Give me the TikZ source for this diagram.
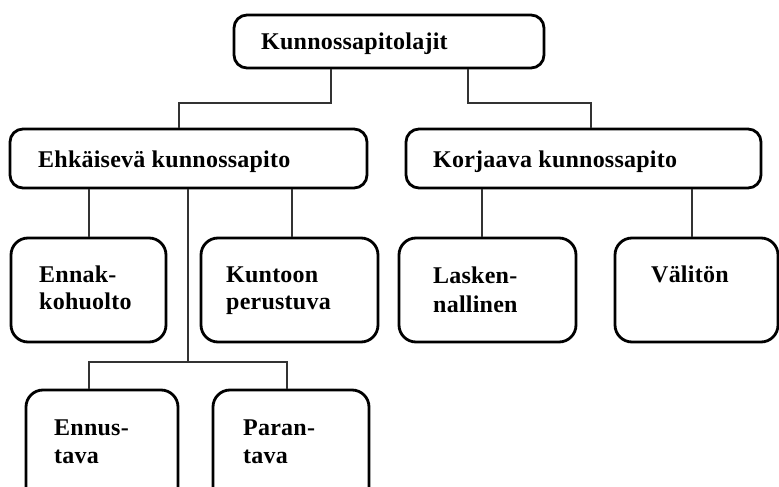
\documentclass[tikz,border=0pt]{standalone}
\usepackage{fontspec}
\setmainfont[LetterSpace=1]{Liberation Serif}
\begin{document}
\begin{tikzpicture}[x=1pt,y=-1pt,
  box/.style={draw=black, line width=2.8pt, rounded corners=13pt, fill=white, inner sep=0pt},
  sbox/.style={box, rounded corners=17pt},
  txt/.style={anchor=base west, inner sep=0pt, font=\fontsize{24}{28}\selectfont\bfseries},
  conn/.style={draw=black!80, line width=1.1pt}]
\useasboundingbox (0,0) rectangle (779,487);
\clip (0,0) rectangle (779,487);
\fill[white] (0,0) rectangle (779,487);
% boxes
\node[box, minimum width=310pt, minimum height=53pt] (top) at (389,41.5) {};
\node[box, minimum width=357pt, minimum height=59pt] (ehk) at (188.5,158.5) {};
\node[box, minimum width=355pt, minimum height=59pt] (kor) at (583.5,158.5) {};
\node[sbox, minimum width=155pt, minimum height=104pt] (ennak) at (88.5,290) {};
\node[sbox, minimum width=177pt, minimum height=104pt] (kunt) at (289.5,290) {};
\node[sbox, minimum width=177pt, minimum height=104pt] (lask) at (487.5,290) {};
\node[sbox, minimum width=163pt, minimum height=104pt] (valit) at (696.5,290) {};
\node[sbox, minimum width=152pt, minimum height=130pt] (ennus) at (102,455) {};
\node[sbox, minimum width=156pt, minimum height=130pt] (paran) at (291,455) {};
% texts
\node[txt] (t-top) at (261,50) {Kunnossapitolajit};
\node[txt] (t-ehk) at (38,167) {Ehkäisevä kunnossapito};
\node[txt] (t-kor) at (433,167) {Korjaava kunnossapito};
\node[txt] (t-ennak1) at (39,282) {Ennak-};
\node[txt] (t-ennak2) at (39,309) {kohuolto};
\node[txt] (t-kunt1) at (226,282) {Kuntoon};
\node[txt] (t-kunt2) at (226,309) {perustuva};
\node[txt] (t-lask1) at (433,283) {Lasken-};
\node[txt] (t-lask2) at (433,312) {nallinen};
\node[txt] (t-valit) at (651,282) {Välitön};
\node[txt] (t-ennus1) at (54,435) {Ennus-};
\node[txt] (t-ennus2) at (54,463) {tava};
\node[txt] (t-paran1) at (243,435) {Paran-};
\node[txt] (t-paran2) at (243,463) {tava};
% connectors
\coordinate (jl) at (331,103);
\coordinate (jr) at (468,103);
\coordinate (jm) at (188,362);
\draw[conn] (top.south -| jl) -- (jl) -| (ehk.north -| 179,0);
\draw[conn] (top.south -| jr) -- (jr) -| (kor.north -| 591,0);
\draw[conn] (ehk.south -| 89,0) -- (ennak.north -| 89,0);
\draw[conn] (ehk.south -| 292,0) -- (kunt.north -| 292,0);
\draw[conn] (ehk.south -| jm) -- (jm);
\draw[conn] (ennus.north -| 89,0) |- (jm) -| (paran.north -| 287,0);
\draw[conn] (kor.south -| 482,0) -- (lask.north -| 482,0);
\draw[conn] (kor.south -| 692,0) -- (valit.north -| 692,0);
\end{tikzpicture}
\end{document}
